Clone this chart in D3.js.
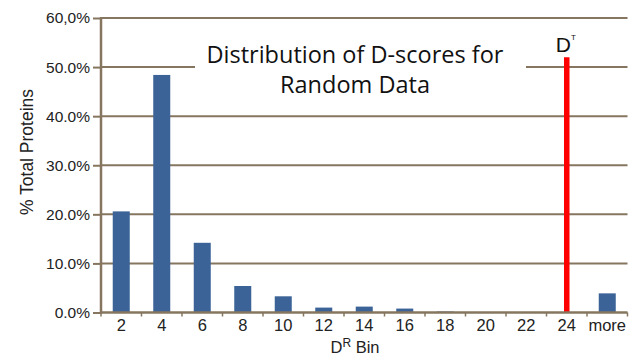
<!DOCTYPE html>
<html><head><meta charset="utf-8">
<script src="https://cdn.jsdelivr.net/npm/d3@7"></script>
<style>body{margin:0;background:#fff}svg{display:block}</style>
</head><body>
<svg id="c" width="630" height="357"></svg>
<script>
const categories = ["2","4","6","8","10","12","14","16","18","20","22","24","more"];
const values = [20.6, 48.4, 14.2, 5.4, 3.3, 1.0, 1.2, 0.8, 0.2, 0, 0, 0, 3.9];
const yTicks = [0,10,20,30,40,50,60];
const yTickLabels = ["0.0%","10.0%","20.0%","30.0%","40.0%","50.0%","60,0%"];
const thresholdCategory = "24";
const thresholdValue = 52;
const titleLines = ["Distribution of D-scores for","Random Data"];

const svg = d3.select("#c");
const L = 101, R = 627.5, T = 18, B = 312.5;
const x = d3.scaleBand().domain(categories).range([L, R]).padding(0);
const y = d3.scaleLinear().domain([0, 60]).range([B, T]);
const axisCol = "#86765f";
const lab = "'Liberation Sans', Arial, sans-serif";

// gridlines
svg.append("g").selectAll("line").data(yTicks.filter(d=>d>0)).join("line")
  .attr("x1", L).attr("x2", R).attr("y1", d=>y(d)).attr("y2", d=>y(d))
  .attr("stroke", axisCol).attr("stroke-width", 2);

// title box
svg.append("rect").attr("x",195).attr("y",40).attr("width",331).attr("height",62).attr("fill","#fff");
const tg = svg.append("g").attr("font-family","'Open Sans', sans-serif").attr("fill","#111").attr("text-anchor","middle");
tg.selectAll("text").data(titleLines).join("text")
  .attr("x", 355).attr("y",(d,i)=>63+i*30).attr("font-size",23.5).text(d=>d);

// bars
const bw = x.bandwidth()*0.42;
svg.append("g").selectAll("rect").data(categories).join("rect")
  .attr("x", (d)=>x(d)+x.bandwidth()/2-bw/2)
  .attr("width", bw)
  .attr("y", (d,i)=>y(values[i]))
  .attr("height", (d,i)=>B - y(values[i]))
  .attr("fill", "#3b6397");

// threshold line
const tx = x(thresholdCategory)+x.bandwidth()/2;
svg.append("line").attr("x1",tx).attr("x2",tx).attr("y1",y(thresholdValue)).attr("y2",B)
  .attr("stroke","#ff0000").attr("stroke-width",5.5);
const dt = svg.append("text").attr("x",tx-11).attr("y",52).attr("font-family",lab).attr("font-size",21).attr("fill","#111");
dt.append("tspan").text("D");
dt.append("tspan").attr("font-size",8).attr("dy",-12).text("T");

// y axis
const ya = svg.append("g").attr("transform",`translate(${L},0)`)
  .call(d3.axisLeft(y).tickValues(yTicks).tickSize(8).tickPadding(3).tickFormat((d,i)=>yTickLabels[i]));
ya.select(".domain").remove();
ya.selectAll(".tick line").attr("stroke",axisCol).attr("stroke-width",2);
ya.selectAll(".tick text").attr("font-family",lab).attr("font-size",15.5).attr("fill","#222");
svg.append("line").attr("x1",L).attr("x2",L).attr("y1",T-1).attr("y2",B+1).attr("stroke",axisCol).attr("stroke-width",2.5);

// x axis
const xa = svg.append("g").attr("transform",`translate(0,${B})`)
  .call(d3.axisBottom(x).tickSize(0).tickPadding(7));
xa.select(".domain").remove();
xa.selectAll(".tick text").attr("font-family",lab).attr("font-size",16.5).attr("fill","#222");
svg.append("line").attr("x1",L-1).attr("x2",R).attr("y1",B).attr("y2",B).attr("stroke",axisCol).attr("stroke-width",2.5);
svg.append("g").selectAll("line").data(categories.concat(["end"])).join("line")
  .attr("x1",(d,i)=>L+i*x.step()).attr("x2",(d,i)=>L+i*x.step())
  .attr("y1",B).attr("y2",B+4).attr("stroke",axisCol).attr("stroke-width",1.5);

// axis titles
svg.append("text").attr("transform","translate(33,152) rotate(-90)").attr("text-anchor","middle")
  .attr("font-family",lab).attr("font-size",17.5).attr("fill","#222").text("% Total Proteins");
const xt = svg.append("text").attr("x",355).attr("y",353).attr("text-anchor","middle")
  .attr("font-family",lab).attr("font-size",16.5).attr("fill","#222");
xt.append("tspan").text("D");
xt.append("tspan").attr("font-size",12).attr("dy",-6).text("R");
xt.append("tspan").attr("dy",6).text(" Bin");
</script>
</body></html>
